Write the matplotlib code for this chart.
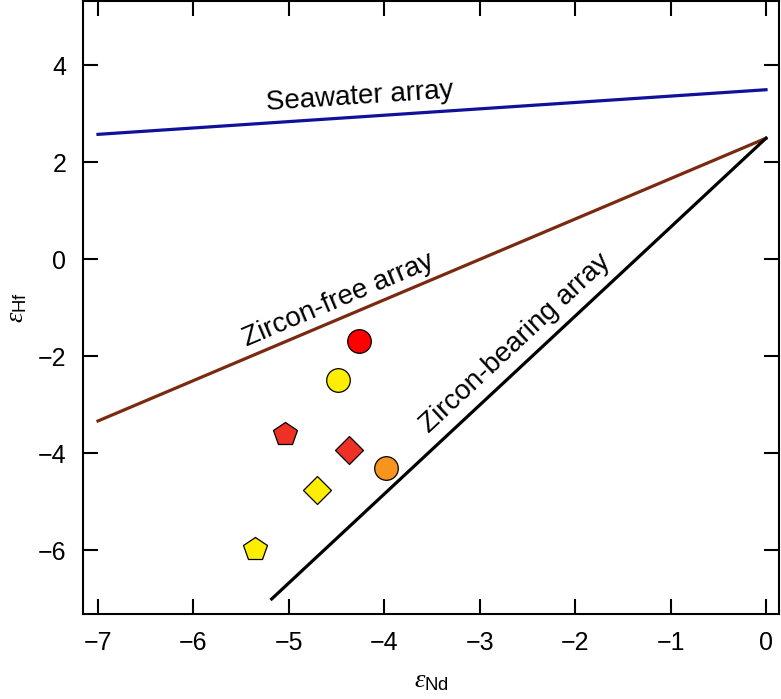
import matplotlib.pyplot as plt

plt.rcParams['font.family'] = ['Liberation Sans', 'DejaVu Sans']
plt.rcParams['mathtext.fontset'] = 'custom'
plt.rcParams['mathtext.rm'] = 'Liberation Sans'
plt.rcParams['mathtext.it'] = 'Liberation Serif:italic'

# array end points (eNd, eHf)
seawater_x = [-7.0, 0.0]
seawater_y = [2.58, 3.5]
zfree_x = [-7.0, 0.0]
zfree_y = [-3.33, 2.5]
zbear_x = [-5.18, 0.0]
zbear_y = [-7.0, 2.5]

# samples
samp_x = [-4.26, -4.48, -3.98, -5.04, -5.35, -4.37, -4.70]
samp_y = [-1.68, -2.48, -4.30, -3.59, -5.97, -3.93, -4.76]
samp_marker = ['o', 'o', 'o', 'p', 'p', 'D', 'D']
samp_color = ['#ff0000', '#ffee00', '#f7941d', '#ee3124', '#ffee00', '#ee3124', '#ffee00']
samp_size = [17, 17, 17, 18, 18, 14, 14]

xticks = [-7, -6, -5, -4, -3, -2, -1, 0]
yticks = [-6, -4, -2, 0, 2, 4]

fig = plt.figure(figsize=(7.81, 6.99), dpi=100)
ax = fig.add_axes([0.1063, 0.1216, 0.8911, 0.877])

ax.plot(seawater_x, seawater_y, color='#10109a', lw=2.3)
ax.plot(zfree_x, zfree_y, color='#7a2a10', lw=2.3)
ax.plot(zbear_x, zbear_y, color='black', lw=2.3)

for x, y, m, c, s in zip(samp_x, samp_y, samp_marker, samp_color, samp_size):
    ax.plot(x, y, marker=m, ms=s, mfc=c, mec='black', mew=0.9, ls='none', zorder=3)

ax.text(-4.26, 3.35, 'Seawater array', fontsize=20, rotation=3.8,
        ha='center', va='center', rotation_mode='anchor')
ax.text(-5.44, -1.79, 'Zircon-free array', fontsize=20, rotation=22.9,
        ha='left', va='baseline', rotation_mode='anchor')
ax.text(-2.63, -1.72, 'Zircon-bearing array', fontsize=20, rotation=43,
        ha='center', va='center', rotation_mode='anchor')

ax.set_xlim(-7.157, 0.136)
ax.set_ylim(-7.31, 5.33)
ax.set_xticks(xticks)
ax.set_yticks(yticks)
ax.set_xticklabels(['\u2212%d' % -t if t < 0 else str(t) for t in xticks])
ax.set_yticklabels(['\u2212%d' % -t if t < 0 else str(t) for t in yticks])
ax.tick_params(direction='in', length=11, width=1.5, labelsize=18,
               top=True, right=True, pad=12)
for s in ax.spines.values():
    s.set_linewidth(1.5)

ax.set_xlabel(r'$\varepsilon_{\mathrm{Nd}}$', fontsize=19, labelpad=10)
ax.set_ylabel(r'$\varepsilon_{\mathrm{Hf}}$', fontsize=19, labelpad=6)

fig.savefig('out.png', dpi=100)
